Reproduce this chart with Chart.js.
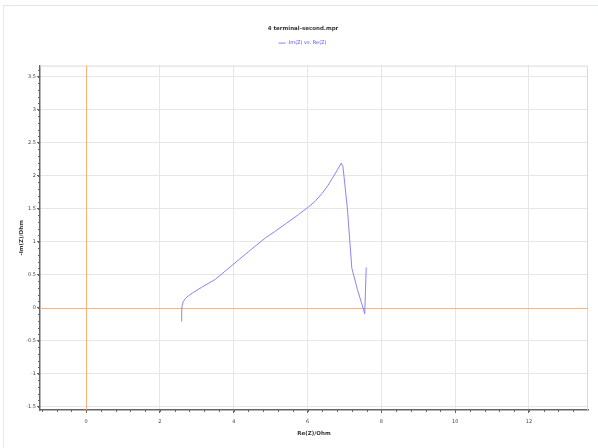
<!DOCTYPE html>
<html>
<head>
<meta charset="utf-8">
<script src="https://cdn.jsdelivr.net/npm/chart.js@4"></script>
<style>
  body { margin: 0; background: #fff; }
  #wrap { position: relative; width: 598px; height: 448px; }
  #frame { position: absolute; left: 3px; top: 5px; right: 0; bottom: 0;
           border-left: 1px solid #dfe8f6; border-top: 1px solid #dfe8f6; pointer-events: none; }
</style>
</head>
<body>
<div id="wrap">
  <canvas id="chart" width="598" height="448"></canvas>
  <div id="frame"></div>
</div>
<script>
// Nyquist data
const reZ = [2.59, 2.59, 2.6, 2.63, 2.69, 2.77, 2.9, 3.13, 3.5, 3.95, 4.4, 4.86, 5.1, 5.4, 5.75, 6.03, 6.2, 6.39, 6.55, 6.67, 6.8, 6.91, 6.96, 7.08, 7.2, 7.35, 7.55, 7.57, 7.59];
const imZ = [-0.21, -0.05, 0.03, 0.09, 0.14, 0.18, 0.23, 0.31, 0.43, 0.64, 0.85, 1.06, 1.15, 1.27, 1.41, 1.53, 1.61, 1.73, 1.85, 1.96, 2.08, 2.19, 2.14, 1.5, 0.6, 0.28, -0.09, 0.25, 0.61];

const xTicks = [0, 2, 4, 6, 8, 10, 12];
const yTicks = [-1.5, -1, -0.5, 0, 0.5, 1, 1.5, 2, 2.5, 3, 3.5];

const gridColor = '#e6e6e6';
const zeroColor = '#fbb274';

// the zero lines are drawn by the plugin below
function gridLine(ctx) {
    return ctx.tick && Math.abs(ctx.tick.value) < 1e-9 ? 'rgba(0,0,0,0)' : gridColor;
}

// orange zero lines, light top/right frame and small minor ticks
const plotExtras = {
    id: 'plotExtras',
    beforeDatasetsDraw(chart) {
        const c = chart.ctx;
        const x = chart.scales.x, y = chart.scales.y;
        const a = chart.chartArea;
        c.save();
        c.strokeStyle = '#dadada';
        c.lineWidth = 1;
        c.beginPath();
        c.moveTo(a.left, a.top + 0.5);
        c.lineTo(a.right - 0.5, a.top + 0.5);
        c.lineTo(a.right - 0.5, a.bottom);
        c.stroke();

        c.strokeStyle = zeroColor;
        c.beginPath();
        const x0 = Math.round(x.getPixelForValue(0)) + 0.5;
        const y0 = Math.round(y.getPixelForValue(0)) + 0.5;
        c.moveTo(x0, a.top);
        c.lineTo(x0, a.bottom);
        c.moveTo(a.left, y0);
        c.lineTo(a.right, y0);
        c.stroke();
        c.restore();
    },
    afterDraw(chart) {
        const c = chart.ctx;
        const x = chart.scales.x, y = chart.scales.y;
        const a = chart.chartArea;
        c.save();
        c.strokeStyle = '#666';
        c.lineWidth = 1;
        c.beginPath();
        for (let v = Math.ceil(x.min / 0.4) * 0.4; v <= x.max; v += 0.4) {
            const px = Math.round(x.getPixelForValue(v)) + 0.5;
            c.moveTo(px, a.bottom);
            c.lineTo(px, a.bottom + 2);
        }
        for (let v = Math.ceil(y.min / 0.1) * 0.1; v <= y.max; v += 0.1) {
            const py = Math.round(y.getPixelForValue(v)) + 0.5;
            c.moveTo(a.left - 2, py);
            c.lineTo(a.left, py);
        }
        c.stroke();
        c.restore();
    }
};

// legend takes the room down to the plot top
const legendGap = {
    id: 'legendGap',
    beforeInit(chart) {
        const fit = chart.legend.fit;
        chart.legend.fit = function () {
            fit.call(this);
            this.height = 29;
        };
    }
};

new Chart(document.getElementById('chart').getContext('2d'), {
    type: 'scatter',
    data: {
        datasets: [{
            label: '-Im(Z) vs. Re(Z)',
            data: reZ.map((v, i) => ({ x: v, y: imZ[i] })),
            showLine: true,
            borderColor: 'rgba(120, 120, 255, 0.9)',
            backgroundColor: 'rgba(120, 120, 255, 0.9)',
            borderWidth: 1,
            pointRadius: 0,
            tension: 0
        }]
    },
    options: {
        responsive: false,
        animation: false,
        layout: { padding: { left: 18, right: 10, top: 0, bottom: 11 } },
        plugins: {
            title: {
                display: true,
                text: '4 terminal-second.mpr',
                color: '#333',
                font: { family: 'DejaVu Sans', size: 5.5, weight: 'bold' },
                padding: { top: 25, bottom: 5 }
            },
            legend: {
                labels: {
                    color: '#5050ff',
                    font: { family: 'DejaVu Sans', size: 5 },
                    usePointStyle: true,
                    pointStyle: 'line',
                    boxWidth: 6,
                    padding: 4
                }
            },
            tooltip: { enabled: false }
        },
        scales: {
            x: {
                type: 'linear',
                min: -1.25,
                max: 13.6,
                afterBuildTicks: s => { s.ticks = xTicks.map(v => ({ value: v })); },
                afterFit: s => { s.height = 27; },
                grid: { color: gridLine, tickLength: 3, tickColor: '#666' },
                border: { color: '#666', width: 1.5 },
                ticks: { color: '#444', font: { family: 'DejaVu Sans', size: 5 }, padding: 6, callback: v => v },
                title: {
                    display: true,
                    text: 'Re(Z)/Ohm',
                    color: '#333',
                    font: { family: 'DejaVu Sans', size: 5.5, weight: 'bold' },
                    padding: 0
                }
            },
            y: {
                type: 'linear',
                min: -1.55,
                max: 3.67,
                afterBuildTicks: s => { s.ticks = yTicks.map(v => ({ value: v })); },
                afterFit: s => { s.width = 22; },
                grid: { color: gridLine, tickLength: 3, tickColor: '#666' },
                border: { color: '#666', width: 1.5 },
                ticks: { color: '#444', font: { family: 'DejaVu Sans', size: 5 }, padding: 1, callback: v => v },
                title: {
                    display: true,
                    text: '-Im(Z)/Ohm',
                    color: '#333',
                    font: { family: 'DejaVu Sans', size: 5.5, weight: 'bold' },
                    padding: 0
                }
            }
        }
    },
    plugins: [plotExtras, legendGap]
});
</script>
</body>
</html>
